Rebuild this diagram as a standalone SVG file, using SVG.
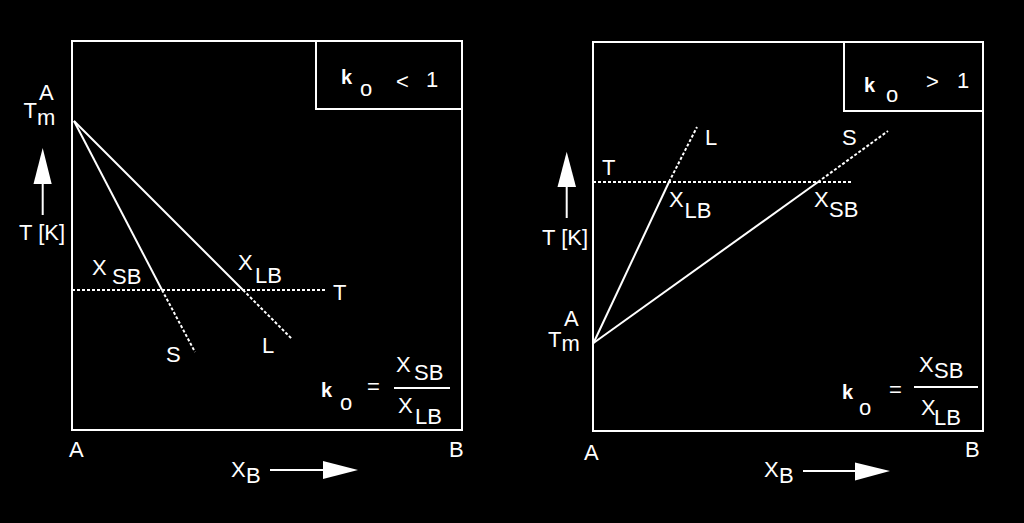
<svg xmlns="http://www.w3.org/2000/svg" width="1024" height="523" viewBox="0 0 1024 523">
<style>
text{font-family:"Liberation Sans",Arial,sans-serif;font-size:22px;fill:#fff}
.k{font-weight:bold;font-size:20px}
.o{font-size:22px}
.box{fill:none;stroke:#fff;stroke-width:2}
.ln{stroke:#fff;stroke-width:2;fill:none}
.dot{stroke:#fff;stroke-width:2;fill:none;stroke-dasharray:3 2}
.ah{fill:#fff}
</style>
<rect width="1024" height="523" fill="#000"/>
<g id="panel-left">
  <rect class="box" x="72" y="41" width="390" height="389"/>
  <path class="box" d="M316,41 V109 H462"/>
  <g id="inset-left">
    <text class="k" x="341" y="84">k</text>
    <text class="o" x="360" y="96">o</text>
    <text x="396" y="89">&lt;</text>
    <text x="426" y="87">1</text>
  </g>
  <g id="axis-left">
    <text x="23.5" y="118">T</text>
    <text x="37" y="125">m</text>
    <text x="39" y="100">A</text>
    <line class="ln" x1="42.7" y1="182" x2="42.7" y2="215"/>
    <polygon class="ah" points="42.7,148 33.5,184 51.7,184"/>
    <text x="19" y="240">T [K]</text>
  </g>
  <g id="curves-left">
    <line class="ln" x1="74" y1="121" x2="162" y2="290"/>
    <line class="dot" x1="162" y1="290" x2="195" y2="352"/>
    <line class="ln" x1="74" y1="121" x2="243" y2="290"/>
    <line class="dot" x1="243" y1="290" x2="292" y2="339"/>
    <line class="dot" x1="72" y1="290" x2="327" y2="290"/>
  </g>
  <g id="labels-left">
    <text x="92" y="275">X</text><text x="112" y="284">SB</text>
    <text x="238" y="270">X</text><text x="255" y="283">LB</text>
    <text x="333" y="300">T</text>
    <text x="166" y="362">S</text>
    <text x="262" y="353">L</text>
  </g>
  <g id="formula-left">
    <text class="k" x="321" y="397">k</text>
    <text class="o" x="340" y="410">o</text>
    <text x="367" y="394">=</text>
    <line class="ln" x1="394" y1="388" x2="450" y2="388"/>
    <text x="396" y="372">X</text><text x="414" y="380">SB</text>
    <text x="398" y="413">X</text><text x="415" y="424">LB</text>
  </g>
  <g id="xaxis-left">
    <text x="69" y="457">A</text>
    <text x="449" y="457">B</text>
    <text x="231" y="477">X</text><text x="246" y="483">B</text>
    <line class="ln" x1="270" y1="470" x2="325" y2="470"/>
    <polygon class="ah" points="358,470 323,461 323,479"/>
  </g>
</g>
<g id="panel-right">
  <rect class="box" x="593" y="42" width="390" height="389"/>
  <path class="box" d="M844,42 V111 H983"/>
  <g id="inset-right">
    <text class="k" x="864" y="92">k</text>
    <text class="o" x="886" y="102">o</text>
    <text x="926" y="89">&gt;</text>
    <text x="957" y="88">1</text>
  </g>
  <g id="axis-right">
    <line class="ln" x1="566.7" y1="186" x2="566.7" y2="218"/>
    <polygon class="ah" points="566.7,151.7 557.5,187 576,187"/>
    <text x="542" y="245">T [K]</text>
    <text x="548" y="347">T</text>
    <text x="561.5" y="351">m</text>
    <text x="564" y="326">A</text>
  </g>
  <g id="curves-right">
    <line class="ln" x1="593.5" y1="343" x2="669" y2="182"/>
    <line class="dot" x1="669" y1="182" x2="697" y2="127"/>
    <line class="ln" x1="593.5" y1="343" x2="818" y2="182"/>
    <line class="dot" x1="818" y1="182" x2="888" y2="131"/>
    <line class="dot" x1="593" y1="182" x2="853" y2="182"/>
  </g>
  <g id="labels-right">
    <text x="602" y="175">T</text>
    <text x="705" y="145">L</text>
    <text x="842" y="145">S</text>
    <text x="669" y="207">X</text><text x="684.5" y="218">LB</text>
    <text x="814" y="207">X</text><text x="829" y="217">SB</text>
  </g>
  <g id="formula-right">
    <text class="k" x="842" y="399">k</text>
    <text class="o" x="859" y="415">o</text>
    <text x="889" y="397">=</text>
    <line class="ln" x1="914" y1="387" x2="978" y2="387"/>
    <text x="919" y="372">X</text><text x="934" y="378">SB</text>
    <text x="921" y="415">X</text><text x="934" y="425">LB</text>
  </g>
  <g id="xaxis-right">
    <text x="584" y="460">A</text>
    <text x="965" y="457">B</text>
    <text x="764" y="477">X</text><text x="779" y="483">B</text>
    <line class="ln" x1="803" y1="471" x2="857" y2="471"/>
    <polygon class="ah" points="890,471 855,462.5 855,480.5"/>
  </g>
</g>
</svg>
